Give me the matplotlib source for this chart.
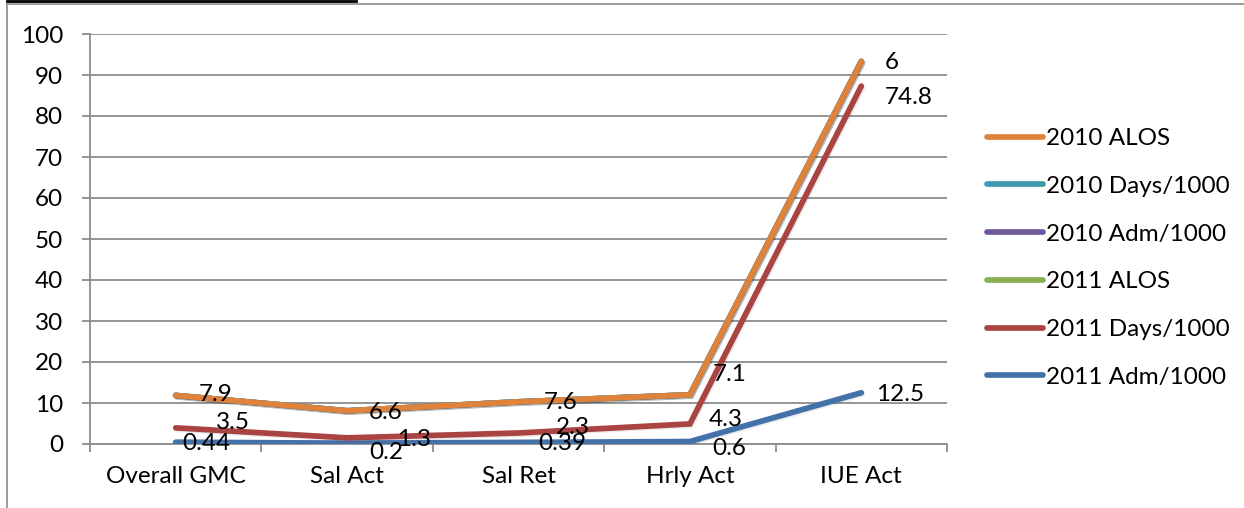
import numpy as np
import matplotlib
matplotlib.use("Agg")
import matplotlib.pyplot as plt
import matplotlib.patheffects as pe
from matplotlib.lines import Line2D

plt.rcParams['font.family'] = ['Lato', 'DejaVu Sans']

categories = ["Overall GMC", "Sal Act", "Sal Ret", "Hrly Act", "IUE Act"]

# stacking order: first series sits at the bottom
series_names = ["2011 Adm/1000", "2011 Days/1000", "2011 ALOS",
                "2010 Adm/1000", "2010 Days/1000", "2010 ALOS"]
adm_2011 = [0.44, 0.2, 0.39, 0.6, 12.5]
days_2011 = [3.5, 1.3, 2.3, 4.3, 74.8]
alos_2011 = [7.9, 6.6, 7.6, 7.1, 6]
adm_2010 = [0, 0, 0, 0, 0]
days_2010 = [0, 0, 0, 0, 0]
alos_2010 = [0, 0, 0, 0, 0]

colors = ["#4471AA", "#AA4442", "#8BAE4E", "#72569A", "#3E98B0", "#E0823A"]
labelled = [True, True, True, False, False, False]

# per-label text offsets in pixels (dx, dy), one row per labelled series
label_offsets = [
    [(7, -1), (22, -9), (20, -1), (22, -7), (15, -2)],
    [(40, 5), (50, -2), (37, 5), (19, 4), (23, -11)],
    [(23, 1), (22, -2), (25, -1), (23, 20), (23, -1)],
]

FS = 17.5
W, H, DPI = 1244, 508, 100
fig = plt.figure(figsize=(W / DPI, H / DPI), dpi=DPI)
ax = fig.add_axes([90 / W, 64 / H, (947 - 90) / W, (444 - 34) / H])

values = np.array([adm_2011, days_2011, alos_2011, adm_2010, days_2010, alos_2010], dtype=float)
stacked = np.cumsum(values, axis=0)
x = np.arange(len(categories))

handles = []
for i, name in enumerate(series_names):
    ln, = ax.plot(x, stacked[i], color=colors[i], lw=4.1, solid_capstyle='round',
                  solid_joinstyle='miter', zorder=3 + i, label=name,
                  path_effects=[pe.SimpleLineShadow(offset=(1.0, -1.0), alpha=0.08, shadow_color='black'),
                                pe.Normal()])
    handles.append(ln)

k = 0
for i in range(len(series_names)):
    if not labelled[i]:
        continue
    for j in range(len(categories)):
        dx, dy = label_offsets[k][j]
        ax.annotate(f"{values[i, j]:g}", (x[j], stacked[i, j]), xytext=(dx, dy),
                    textcoords='offset pixels', ha='left', va='center',
                    fontsize=FS, color='black', zorder=20)
    k += 1

ax.set_xlim(-0.5, len(categories) - 0.5)
ax.set_ylim(0, 100)
ax.set_yticks(np.arange(0, 101, 10))
ax.set_xticks(np.arange(-0.5, len(categories), 1.0))
ax.set_xticklabels([])
ax.set_xticks(x, minor=True)
ax.set_xticklabels(categories, minor=True)

grid_c = "#8C8C8C"
ax.yaxis.grid(True, color=grid_c, lw=1.3)
ax.set_axisbelow(True)
for s in ['top', 'right']:
    ax.spines[s].set_visible(False)
for s in ['left', 'bottom']:
    ax.spines[s].set_color(grid_c)
    ax.spines[s].set_linewidth(1.3)

ax.tick_params(axis='y', which='major', direction='out', length=5.8, width=1.3,
               color=grid_c, pad=13.5, labelsize=FS)
ax.tick_params(axis='x', which='major', direction='out', length=5.8, width=1.3,
               color=grid_c)
ax.tick_params(axis='x', which='minor', length=0, pad=16, labelsize=FS)

order = [5, 4, 3, 2, 1, 0]
leg = ax.legend([handles[i] for i in order], [series_names[i] for i in order],
                loc='upper left', bbox_to_anchor=(987 / W, 1 - 128 / H),
                bbox_transform=fig.transFigure, frameon=False, fontsize=FS,
                handlelength=2.3, handletextpad=0.12, labelspacing=1.1,
                borderaxespad=0, borderpad=0)
for lh in leg.get_lines():
    lh.set_path_effects([pe.Normal()])

# outer chart frame and heading rule
fig.add_artist(Line2D([7 / W, 7 / W], [0, 1 - 4 / H], color="#8C8C8C", lw=1.2,
                      transform=fig.transFigure))
fig.add_artist(Line2D([7 / W, 1], [1 - 4 / H, 1 - 4 / H], color="#8C8C8C", lw=1.2,
                      transform=fig.transFigure))
fig.add_artist(Line2D([7 / W, 356 / W], [1 - 1.3 / H, 1 - 1.3 / H], color="black", lw=2.0,
                      transform=fig.transFigure))

fig.savefig("out.png", dpi=DPI)
